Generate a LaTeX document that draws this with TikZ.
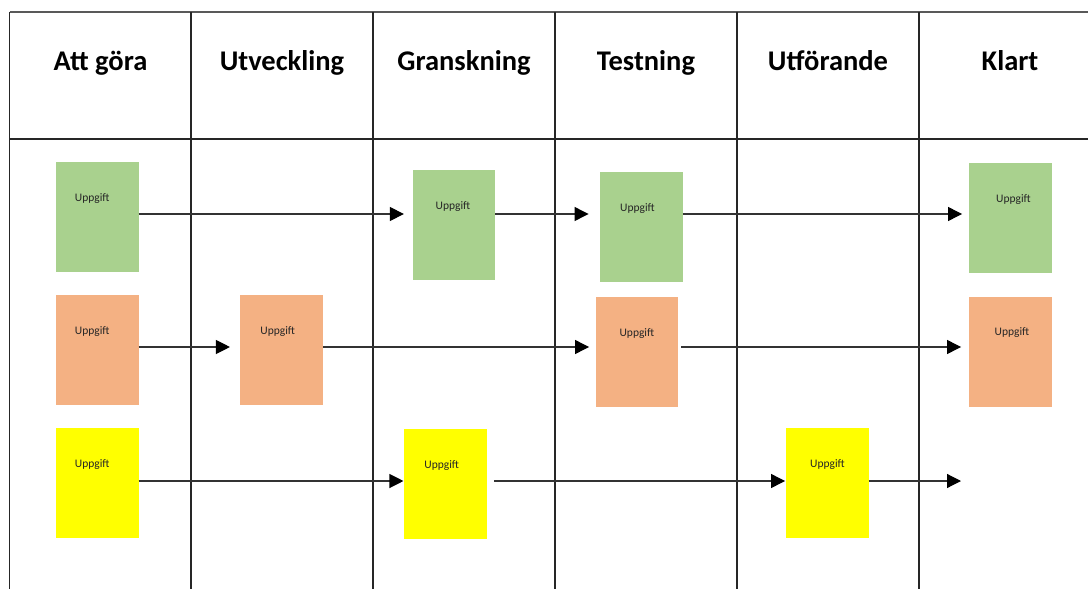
\documentclass[tikz,border=0pt]{standalone}
\usepackage{fontspec}
\setmainfont{Carlito}
\usetikzlibrary{arrows.meta}
\definecolor{taskgreen}{HTML}{A9D18E}
\definecolor{taskorange}{HTML}{F4B183}
\definecolor{taskyellow}{HTML}{FFFF00}
\tikzset{
  gridline/.style={line width=1.3pt, draw=black!85},
  colhead/.style={anchor=base, inner sep=0pt, font=\fontsize{28.5}{34}\selectfont\bfseries},
  task/.style 2 args={rectangle, fill=#1, draw=none, minimum width=82.5pt, minimum height=110pt, inner sep=0pt,
    label={[anchor=base, yshift=-39.5pt, xshift=#2, inner sep=0pt, text=black!85, font=\fontsize{11.5}{13}\selectfont]north:Uppgift}},
  flow/.style={line width=1.2pt, draw=black!80, -{Triangle[length=14pt, width=14pt, color=black]}}
}
\begin{document}
\begin{tikzpicture}[x=1pt, y=-1pt]
\useasboundingbox (0,0) rectangle (1088,589);

% board grid
\draw[gridline, draw=black!65] (9.5,12) -- (1088,12);
\draw[gridline] (9.5,139) -- (1088,139);
\foreach \cx in {9.5,191,373,555,737,919}
  \draw[gridline] (\cx,12) -- (\cx,589);

% column headings
\node[colhead] (h1) at (100.5,70) {Att göra};
\node[colhead] (h2) at (282,70) {Utveckling};
\node[colhead] (h3) at (464,70) {Granskning};
\node[colhead] (h4) at (646,70) {Testning};
\node[colhead] (h5) at (828,70) {Utförande};
\node[colhead] (h6) at (1010,70) {Klart};

% task cards
\node[task={taskgreen}{-5pt}]  (g1) at (97.25,217) {};
\node[task={taskgreen}{-1pt}]  (g2) at (454,225.3) {};
\node[task={taskgreen}{-4pt}]  (g3) at (641.5,227) {};
\node[task={taskgreen}{3pt}]   (g4) at (1010.5,218) {};

\node[task={taskorange}{-5pt}] (o1) at (97.25,350) {};
\node[task={taskorange}{-4pt}] (o2) at (281.7,350) {};
\node[task={taskorange}{0pt}]  (o3) at (636.9,351.7) {};
\node[task={taskorange}{1.5pt}] (o4) at (1010.5,351.5) {};

\node[task={taskyellow}{-5pt}] (y1) at (97.25,483) {};
\node[task={taskyellow}{-4pt}] (y2) at (445.7,484) {};
\node[task={taskyellow}{0pt}]  (y3) at (827.5,483) {};

% lane levels and free end
\coordinate (r1) at (0,214);
\coordinate (r2) at (0,347);
\coordinate (r3) at (0,481);
\coordinate (yend) at (961,481);

% flow arrows
\draw[flow, shorten >=8.7pt] (g1.east |- r1) -- (g2.west |- r1);
\draw[flow, shorten >=11.5pt] (g2.east |- r1) -- (g3.west |- r1);
\draw[flow, shorten >=7pt] (g3.east |- r1) -- (g4.west |- r1);

\draw[flow, shorten >=10.3pt] (o1.east |- r2) -- (o2.west |- r2);
\draw[flow, shorten >=6.4pt] (o2.east |- r2) -- (o3.west |- r2);
\draw[flow, shorten <=3pt, shorten >=8pt] (o3.east |- r2) -- (o4.west |- r2);

\draw[flow, shorten >=0.8pt] (y1.east |- r3) -- (y2.west |- r3);
\draw[flow, shorten <=7.3pt, shorten >=1pt] (y2.east |- r3) -- (y3.west |- r3);
\draw[flow] (y3.east |- r3) -- (yend);
\end{tikzpicture}
\end{document}
